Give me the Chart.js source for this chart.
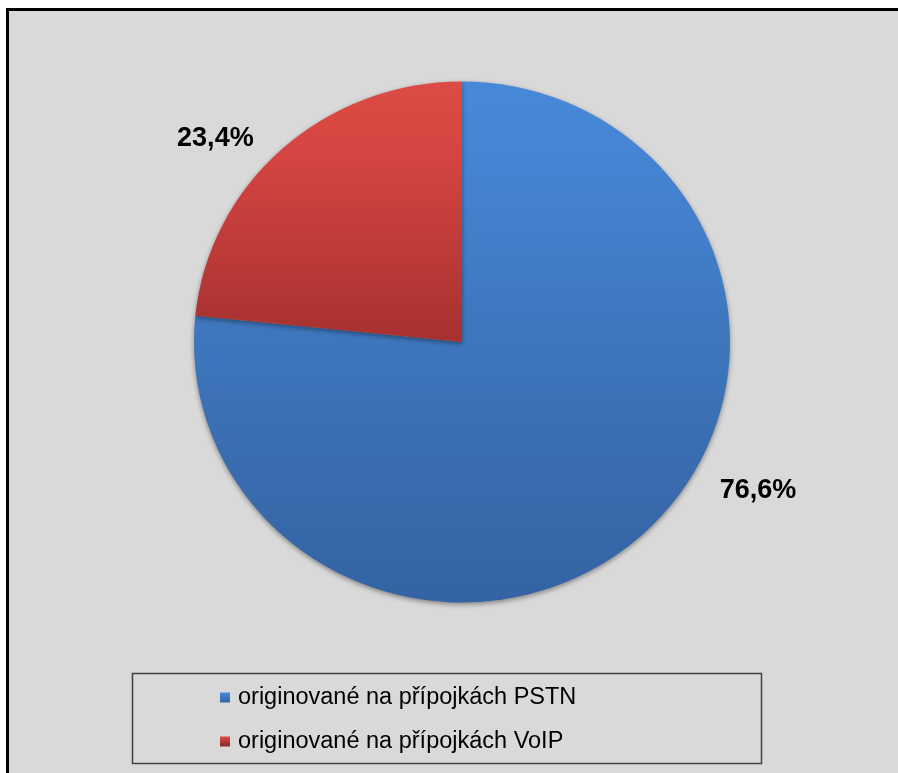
<!DOCTYPE html>
<html>
<head>
<meta charset="utf-8">
<script src="https://cdn.jsdelivr.net/npm/chart.js@4/dist/chart.umd.min.js"></script>
<style>
    body { margin: 0; background: #fff; }
    #frame {
        position: absolute; left: 6px; top: 8px; right: 0; bottom: 0;
        border-left: 3px solid #000; border-top: 3px solid #000;
        background: #d9d9d9;
    }
    #chart { position: absolute; left: 0; top: 0; }
</style>
</head>
<body>
<div id="frame"></div>
<canvas id="chart" width="898" height="773"></canvas>
<script>
const categories = ["originované na přípojkách PSTN", "originované na přípojkách VoIP"]
const shares = [76.6, 23.4]
const shareLabels = ["76,6%", "23,4%"]

// colour stops top -> bottom, per slice
const sliceStops = [
    [[0, "#4788D8"], [0.13, "#4585D4"], [0.71, "#3A6DB0"], [1, "#3363A4"]],
    [[0, "#DD4B45"], [0.13, "#D64541"], [0.5, "#A63130"], [1, "#8A2826"]]
]

function sliceFill(ctx) {
    let area = ctx.chart.chartArea
    if (!area) return "#888"
    let g = ctx.chart.ctx.createLinearGradient(0, area.top, 0, area.bottom)
    sliceStops[ctx.dataIndex].forEach(s => g.addColorStop(s[0], s[1]))
    return g
}

// pie in the reference is a bit flatter than a circle
const squash = {
    id: "squash",
    beforeDatasetsDraw(chart) {
        let arc = chart.getDatasetMeta(0).data[0]
        let c = chart.ctx
        c.save()
        c.translate(arc.x, arc.y)
        c.scale(1, 0.972)
        c.translate(-arc.x, -arc.y)
        c.shadowColor = "rgba(0,0,0,0.4)"
        c.shadowBlur = 5
        c.shadowOffsetY = 2
    },
    afterDatasetsDraw(chart) {
        chart.ctx.restore()
    }
}

// outside-end labels, placed from the arc geometry
const outLabels = {
    id: "outLabels",
    afterDatasetsDraw(chart, args, opts) {
        let c = chart.ctx
        c.save()
        c.font = "bold 27px 'Liberation Sans', Arial, sans-serif"
        c.fillStyle = "#000"
        c.textAlign = "center"
        c.textBaseline = "middle"
        chart.getDatasetMeta(0).data.forEach((arc, i) => {
            let mid = (arc.startAngle + arc.endAngle) / 2 + opts.shift[i] * Math.PI / 180
            let r = arc.outerRadius * opts.dist[i]
            c.fillText(shareLabels[i], arc.x + r * Math.cos(mid), arc.y + r * Math.sin(mid))
        })
        c.restore()
    }
}

const boxLegend = {
    id: "boxLegend",
    afterDraw(chart, args, opts) {
        let c = chart.ctx
        c.save()
        c.strokeStyle = "#404040"
        c.lineWidth = 1.5
        c.strokeRect(opts.left, opts.top, opts.width, opts.height)
        c.font = "23.5px 'Liberation Sans', Arial, sans-serif"
        c.textBaseline = "middle"
        chart.data.labels.forEach((lab, i) => {
            let y = opts.top + opts.firstRow + i * opts.rowGap
            let g = c.createLinearGradient(0, y - 5, 0, y + 5)
            g.addColorStop(0, sliceStops[i][0][1])
            g.addColorStop(1, sliceStops[i][3][1])
            c.fillStyle = g
            c.fillRect(opts.markerX, y - 5, 10, 10)
            c.fillStyle = "#000"
            c.fillText(lab, opts.markerX + 18, y)
        })
        c.restore()
    }
}

new Chart(document.getElementById("chart"), {
    type: "pie",
    data: {
        labels: categories,
        datasets: [{
            data: shares,
            backgroundColor: sliceFill,
            borderWidth: 0
        }]
    },
    options: {
        responsive: false,
        animation: false,
        layout: { padding: { left: 194, right: 168, top: 74, bottom: 163 } },
        plugins: {
            legend: { display: false },
            tooltip: { enabled: false },
            outLabels: { shift: [-21.3, -8.3], dist: [1.235, 1.194] },
            boxLegend: { left: 132.5, top: 673.5, width: 629, height: 90, markerX: 220, firstRow: 24, rowGap: 44 }
        }
    },
    plugins: [squash, outLabels, boxLegend]
})
</script>
</body>
</html>
